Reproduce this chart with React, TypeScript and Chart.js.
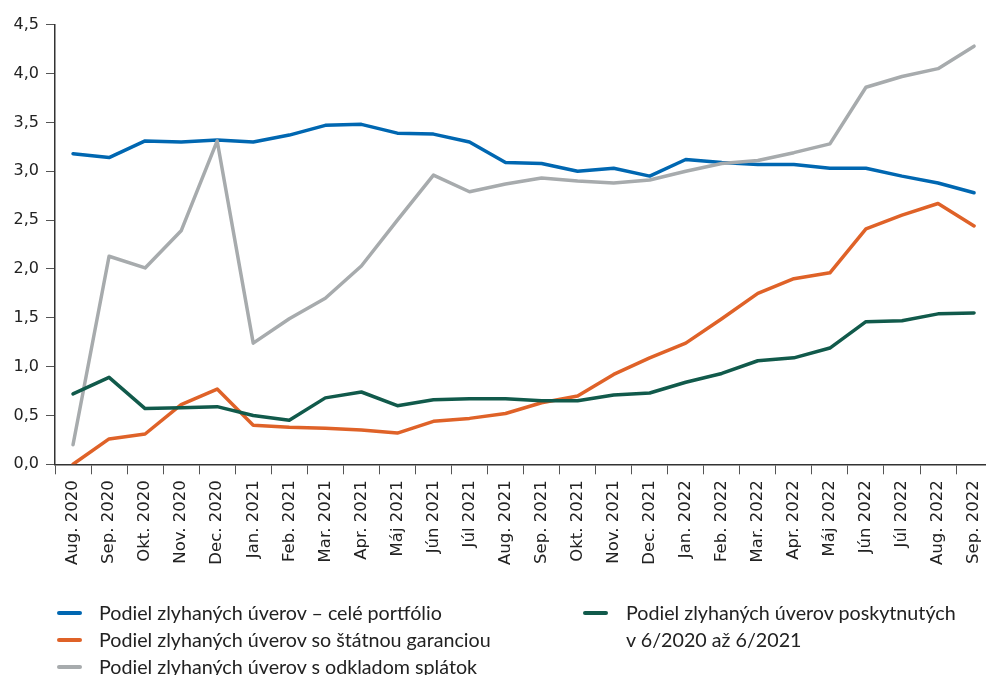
import React, { useEffect, useLayoutEffect, useRef } from "react";
import { Chart, registerables } from "chart.js";

Chart.register(...registerables);

const months = [
  "Aug. 2020", "Sep. 2020", "Okt. 2020", "Nov. 2020", "Dec. 2020",
  "Jan. 2021", "Feb. 2021", "Mar. 2021", "Apr. 2021", "Máj 2021", "Jún 2021", "Júl 2021",
  "Aug. 2021", "Sep. 2021", "Okt. 2021", "Nov. 2021", "Dec. 2021",
  "Jan. 2022", "Feb. 2022", "Mar. 2022", "Apr. 2022", "Máj 2022", "Jún 2022", "Júl 2022",
  "Aug. 2022", "Sep. 2022",
];

const wholePortfolio = [
  3.18, 3.14, 3.31, 3.30, 3.32, 3.30, 3.37, 3.47, 3.48, 3.39, 3.38, 3.30,
  3.09, 3.08, 3.00, 3.03, 2.95, 3.12, 3.09, 3.07, 3.07, 3.03, 3.03, 2.95, 2.88, 2.78,
];
const stateGuarantee = [
  0.0, 0.26, 0.31, 0.61, 0.77, 0.40, 0.38, 0.37, 0.35, 0.32, 0.44, 0.47,
  0.52, 0.63, 0.70, 0.92, 1.09, 1.24, 1.49, 1.75, 1.90, 1.96, 2.41, 2.55, 2.67, 2.44,
];
const deferral = [
  0.20, 2.13, 2.01, 2.39, 3.31, 1.24, 1.49, 1.70, 2.03, 2.50, 2.96, 2.79,
  2.87, 2.93, 2.90, 2.88, 2.91, 3.00, 3.08, 3.11, 3.19, 3.28, 3.86, 3.97, 4.05, 4.28,
];
const granted2020to2021 = [
  0.72, 0.89, 0.57, 0.58, 0.59, 0.50, 0.45, 0.68, 0.74, 0.60, 0.66, 0.67,
  0.67, 0.65, 0.65, 0.71, 0.73, 0.84, 0.93, 1.06, 1.09, 1.19, 1.46, 1.47, 1.54, 1.55,
];

const seriesNames = [
  "Podiel zlyhaných úverov – celé portfólio",
  "Podiel zlyhaných úverov so štátnou garanciou",
  "Podiel zlyhaných úverov s odkladom splátok",
  "Podiel zlyhaných úverov poskytnutých v 6/2020 až 6/2021",
];

const BLUE = "#0067b1";
const ORANGE = "#df6228";
const GRAY = "#a7abad";
const GREEN = "#115a4b";

const AXIS = "#333333";
const TICK_FONT = "'DejaVu Sans', sans-serif";

export default function App() {
  const ref = useRef<HTMLCanvasElement | null>(null);

  useLayoutEffect(() => {
    document.body.style.margin = "0";
  }, []);

  useEffect(() => {
    if (!ref.current) return;
    const mk = (label: string, data: number[], color: string) => ({
      label,
      data,
      borderColor: color,
      backgroundColor: color,
      borderWidth: 3.5,
      pointRadius: 0,
      tension: 0,
      borderJoinStyle: "round" as const,
      borderCapStyle: "round" as const,
    });
    const chart = new Chart(ref.current, {
      type: "line",
      data: {
        labels: months,
        datasets: [
          mk(seriesNames[3], granted2020to2021, GREEN),
          mk(seriesNames[2], deferral, GRAY),
          mk(seriesNames[1], stateGuarantee, ORANGE),
          mk(seriesNames[0], wholePortfolio, BLUE),
        ],
      },
      options: {
        animation: false,
        responsive: false,
        maintainAspectRatio: false,
        layout: { padding: { left: 0, right: 6.4, top: 24.7, bottom: 0 } },
        plugins: { legend: { display: false }, tooltip: { enabled: false } },
        scales: {
          x: {
            offset: true,
            grid: {
              offset: true,
              drawOnChartArea: false,
              drawTicks: true,
              tickLength: 10,
              color: "#555555",
              lineWidth: 1,
            },
            border: { display: true, color: AXIS, width: 1.5 },
            ticks: {
              autoSkip: false,
              maxRotation: 90,
              minRotation: 90,
              padding: 6,
              color: "#222222",
              font: { family: TICK_FONT, size: 16.5 },
            },
            afterFit: (s: any) => {
              s.height = 600 - 464.3;
            },
          },
          y: {
            min: 0,
            max: 4.5,
            grid: {
              drawOnChartArea: false,
              drawTicks: true,
              tickLength: 9,
              color: "#555555",
              lineWidth: 1,
            },
            border: { display: true, color: AXIS, width: 1.5 },
            ticks: {
              stepSize: 0.5,
              padding: 7,
              color: "#222222",
              font: { family: TICK_FONT, size: 16 },
              callback: (v: any) => Number(v).toFixed(1).replace(".", ","),
            },
            afterFit: (s: any) => {
              s.width = 55;
            },
          },
        },
      },
    });
    return () => chart.destroy();
  }, []);

  const legendFont = "Lato, 'Noto Sans', sans-serif";
  const item = (x: number, y: number, color: string, lines: string[], textX: number) => (
    <div key={lines[0]}>
      <div
        style={{
          position: "absolute",
          left: x,
          top: y - 2,
          width: 25,
          height: 4,
          borderRadius: 2,
          background: color,
        }}
      />
      {lines.map((t, i) => (
        <div
          key={t}
          style={{
            position: "absolute",
            left: textX,
            top: y - 14 + i * 26.5,
            height: 28,
            lineHeight: "28px",
            fontFamily: legendFont,
            fontSize: 19.7,
            color: "#222222",
            whiteSpace: "nowrap",
          }}
        >
          {t}
        </div>
      ))}
    </div>
  );

  return (
    <div
      style={{
        position: "relative",
        width: 986,
        height: 675,
        overflow: "hidden",
        background: "#ffffff",
      }}
    >
      <canvas
        ref={ref}
        width={1000}
        height={600}
        style={{ position: "absolute", left: 0, top: 0, width: 1000, height: 600 }}
      />
      {item(57, 613, BLUE, [seriesNames[0]], 99)}
      {item(57, 640, ORANGE, [seriesNames[1]], 99)}
      {item(57, 667, GRAY, [seriesNames[2]], 99)}
      {item(583, 613, GREEN, ["Podiel zlyhaných úverov poskytnutých", "v 6/2020 až 6/2021"], 626)}
    </div>
  );
}
